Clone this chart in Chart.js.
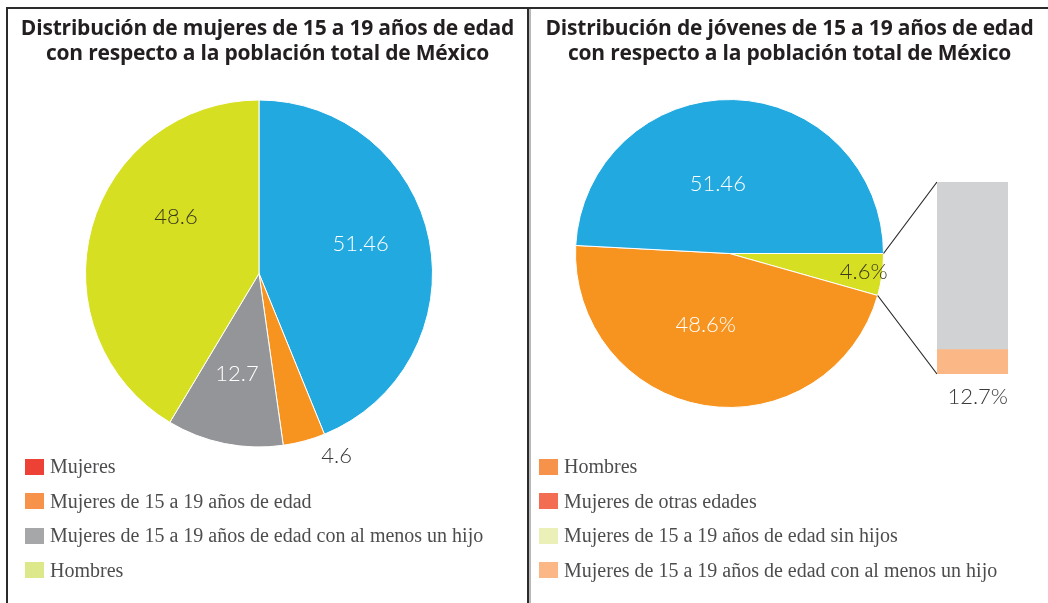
<!DOCTYPE html>
<html lang="es">
<head>
<meta charset="utf-8">
<title>Distribución de jóvenes de 15 a 19 años</title>
<script src="https://cdn.jsdelivr.net/npm/chart.js@4.4.1/dist/chart.umd.min.js"></script>
<style>
  html, body { margin: 0; padding: 0; background: #fff; }
  body { width: 1048px; height: 603px; position: relative; overflow: hidden; }
  .marco { position: absolute; left: 6px; top: 7px; right: -4px; bottom: -4px;
           border-top: 2px solid #2b2b2b; border-left: 2px solid #2b2b2b; }
  .divisor { position: absolute; left: 527px; top: 8px; bottom: 0; width: 2px; background: #2b2b2b; }
  .divisor2 { position: absolute; left: 529px; top: 9px; bottom: 0; width: 2px; background: #b8b8b8; }
  canvas { position: absolute; top: 0; }
  #graficaIzq { left: 0; }
  #graficaDer { left: 530px; }
  #graficaBarra { left: 920px; top: 170px; z-index: 2; }
  .titulo { position: absolute; top: 15px; font: 700 21px "Open Sans", sans-serif; line-height: 25px;
            text-align: center; color: #231f20; z-index: 3; letter-spacing: -0.2px; }
  #tituloIzq { left: 10px; width: 515px; }
  #tituloDer { left: 531px; width: 517px; }
  .leyenda { position: absolute; top: 458px; font: 20px "Liberation Serif", serif; color: #4d4d4f; z-index: 3; }
  #leyendaIzq { left: 25px; }
  #leyendaDer { left: 539px; }
  .leyenda div { display: flex; align-items: center; height: 17px; margin-bottom: 17.5px; white-space: nowrap; }
  .leyenda span.muestra { display: inline-block; width: 19px; height: 16px; margin-right: 6px; }
</style>
</head>
<body>
<div class="marco"></div>
<div class="divisor"></div>
<div class="divisor2"></div>

<div class="titulo" id="tituloIzq">Distribución de mujeres de 15 a 19 años de edad<br>con respecto a la población total de México</div>
<div class="titulo" id="tituloDer">Distribución de jóvenes de 15 a 19 años de edad<br>con respecto a la población total de México</div>

<canvas id="graficaIzq" width="528" height="603"></canvas>
<canvas id="graficaDer" width="518" height="603"></canvas>
<canvas id="graficaBarra" width="110" height="245"></canvas>

<div class="leyenda" id="leyendaIzq"></div>
<div class="leyenda" id="leyendaDer"></div>

<script>
// Datos - gráfica izquierda (mujeres 15 a 19)
const categoriasIzq = ["Mujeres", "Mujeres de 15 a 19 años de edad",
  "Mujeres de 15 a 19 años de edad con al menos un hijo", "Hombres"];
const valoresIzq = [51.46, 4.6, 12.7, 48.6];
const textosIzq = ["51.46", "4.6", "12.7", "48.6"];

// Datos - gráfica derecha (jóvenes 15 a 19)
const categoriasDer = ["Mujeres de 15 a 19 años de edad", "Hombres", "Mujeres de otras edades"];
const valoresDer = [4.6, 48.6, 51.46];
const textosDer = ["4.6%", "48.6%", "51.46"];

// Desglose de las mujeres de 15 a 19 años (barra)
const categoriasBarra = ["Mujeres de 15 a 19 años de edad sin hijos",
  "Mujeres de 15 a 19 años de edad con al menos un hijo"];
const valoresBarra = [87.3, 12.7];

// Leyendas tal como aparecen en la figura
const leyendaIzq = ["Mujeres", "Mujeres de 15 a 19 años de edad",
  "Mujeres de 15 a 19 años de edad con al menos un hijo", "Hombres"];
const leyendaDer = ["Hombres", "Mujeres de otras edades",
  "Mujeres de 15 a 19 años de edad sin hijos", "Mujeres de 15 a 19 años de edad con al menos un hijo"];

// Colores
const coloresIzq = ["#22a9e0", "#f7941f", "#939598", "#d6df22"];
const coloresDer = ["#d6df22", "#f7941f", "#22a9e0"];
const coloresBarra = ["#d1d2d4", "#fbb886"];
const coloresLeyendaIzq = ["#ee4136", "#f6924a", "#a6a7a9", "#dde88a"];
const coloresLeyendaDer = ["#f6924a", "#f26d52", "#eaf0b8", "#fbb886"];

function crearLeyenda(id, textos, colores) {
  const cont = document.getElementById(id);
  textos.forEach((t, i) => {
    const fila = document.createElement("div");
    const muestra = document.createElement("span");
    muestra.className = "muestra";
    muestra.style.background = colores[i];
    fila.appendChild(muestra);
    fila.appendChild(document.createTextNode(t));
    cont.appendChild(fila);
  });
}
crearLeyenda("leyendaIzq", leyendaIzq, coloresLeyendaIzq);
crearLeyenda("leyendaDer", leyendaDer, coloresLeyendaDer);

// Etiquetas de valor sobre cada rebanada
function crearEtiquetas(textos, colores, radios, desvios) {
  return {
    id: "etiquetas",
    afterDatasetsDraw(chart) {
      const ctx = chart.ctx;
      chart.getDatasetMeta(0).data.forEach((arco, i) => {
        const p = arco.getProps(["x", "y", "startAngle", "endAngle", "outerRadius"], true);
        const ang = (p.startAngle + p.endAngle) / 2 + desvios[i] * Math.PI / 180;
        const r = p.outerRadius * radios[i];
        ctx.save();
        ctx.font = "300 22px Lato, sans-serif";
        ctx.fillStyle = colores[i];
        ctx.textAlign = "center";
        ctx.textBaseline = "middle";
        ctx.fillText(textos[i], p.x + r * Math.cos(ang), p.y + r * Math.sin(ang));
        ctx.restore();
      });
    }
  };
}

const opcionesPastel = (padding) => ({
  responsive: false,
  animation: false,
  layout: { padding },
  elements: { arc: { borderWidth: 1, borderColor: "#ffffff", offset: 0, hoverOffset: 0 } },
  plugins: { legend: { display: false }, tooltip: { enabled: false } }
});

// Gráfica izquierda
new Chart(document.getElementById("graficaIzq"), {
  type: "pie",
  data: { labels: categoriasIzq, datasets: [{ data: valoresIzq, backgroundColor: coloresIzq }] },
  options: opcionesPastel({ left: 85, right: 95, top: 99, bottom: 155 }),
  plugins: [crearEtiquetas(textosIzq, ["#ffffff", "#3a3a3a", "#ffffff", "#3b3a1c"],
    [0.61, 1.14, 0.59, 0.58], [-5, -8, 1, 19])]
});

// Barra de desglose (primero, para poder unirla con el pastel)
const canvasBarra = document.getElementById("graficaBarra");
const graficaBarra = new Chart(canvasBarra, {
  type: "bar",
  data: {
    labels: [""],
    datasets: [
      { label: categoriasBarra[1], data: [valoresBarra[1]], backgroundColor: coloresBarra[1] },
      { label: categoriasBarra[0], data: [valoresBarra[0]], backgroundColor: coloresBarra[0] }
    ]
  },
  options: {
    responsive: false,
    animation: false,
    layout: { padding: { left: 17, right: 22, top: 12, bottom: 41 } },
    datasets: { bar: { barPercentage: 1, categoryPercentage: 1 } },
    scales: {
      x: { stacked: true, display: false },
      y: { stacked: true, display: false, min: 0, max: 100 }
    },
    plugins: { legend: { display: false }, tooltip: { enabled: false } }
  },
  plugins: [{
    id: "etiquetaBarra",
    afterDatasetsDraw(chart) {
      const barra = chart.getDatasetMeta(0).data[0];
      const ctx = chart.ctx;
      ctx.save();
      ctx.font = "300 22px Lato, sans-serif";
      ctx.fillStyle = "#3a3a3a";
      ctx.textAlign = "right";
      ctx.textBaseline = "middle";
      ctx.fillText(valoresBarra[1] + "%", barra.x + barra.width / 2, barra.base + 23);
      ctx.restore();
    }
  }]
});

// Líneas que unen la rebanada de 15 a 19 con la barra
const canvasDer = document.getElementById("graficaDer");
const conectores = {
  id: "conectores",
  afterDatasetsDraw(chart) {
    const arco = chart.getDatasetMeta(0).data[0];
    const p = arco.getProps(["x", "y", "startAngle", "endAngle", "outerRadius"], true);
    const arriba = graficaBarra.getDatasetMeta(1).data[0];
    const abajo = graficaBarra.getDatasetMeta(0).data[0];
    const dx = canvasBarra.offsetLeft - canvasDer.offsetLeft;
    const dy = canvasBarra.offsetTop - canvasDer.offsetTop;
    const xBarra = arriba.x - arriba.width / 2 + dx;
    const ctx = chart.ctx;
    ctx.save();
    ctx.strokeStyle = "#2b2b2b";
    ctx.lineWidth = 1.2;
    ctx.beginPath();
    ctx.moveTo(p.x + p.outerRadius * Math.cos(p.startAngle), p.y + p.outerRadius * Math.sin(p.startAngle));
    ctx.lineTo(xBarra, arriba.y + dy);
    ctx.moveTo(p.x + p.outerRadius * Math.cos(p.endAngle), p.y + p.outerRadius * Math.sin(p.endAngle));
    ctx.lineTo(xBarra, abajo.base + dy);
    ctx.stroke();
    ctx.restore();
  }
};

// Gráfica derecha
const opcionesDer = opcionesPastel({ left: 45, right: 164, top: 99, bottom: 195 });
opcionesDer.rotation = 90;
new Chart(canvasDer, {
  type: "pie",
  data: { labels: categoriasDer, datasets: [{ data: valoresDer, backgroundColor: coloresDer }] },
  options: opcionesDer,
  plugins: [crearEtiquetas(textosDer, ["#3b3a1c", "#ffffff", "#ffffff"], [0.88, 0.49, 0.46], [0, 9, -11]), conectores]
});
</script>
</body>
</html>
